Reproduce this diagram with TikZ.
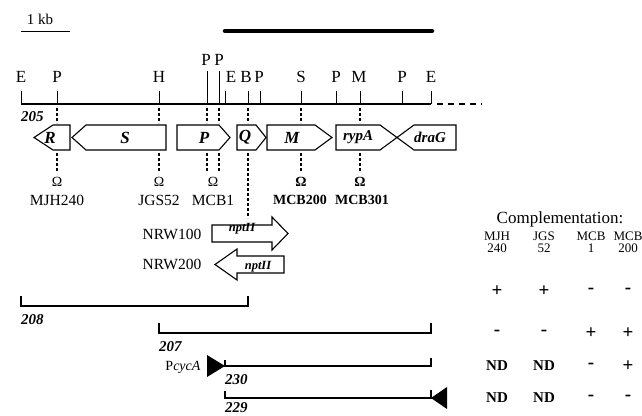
\documentclass[tikz,border=0pt]{standalone}
\usepackage{fontspec}
\setmainfont{Liberation Serif}
\newcommand\fsz[1]{\fontsize{#1}{#1}\selectfont}
\begin{document}
\begin{tikzpicture}[x=1pt,y=-1pt,
  sitelbl/.style={font=\fsz{17}, inner sep=0pt},
  sitetick/.style={line width=0.9pt},
  dotl/.style={line width=1.1pt, dash pattern=on 2.5pt off 2.5pt},
  gene/.style={draw, line width=1.1pt, fill=white, line join=miter},
  genelbl/.style={font=\fsz{17}\bfseries\itshape, inner sep=0pt},
  mutlbl/.style={font=\fsz{15.5}, inner sep=0pt},
  omg/.style={font=\fsz{14}, inner sep=0pt},
  fraglbl/.style={font=\fsz{15}\bfseries\itshape, anchor=west, inner sep=0pt},
  frag/.style={line width=1.3pt},
  ndcell/.style={font=\fsz{15}\bfseries, inner sep=0pt},
  pmcell/.style={font=\fsz{19}\bfseries, inner sep=0pt},
  headlbl/.style={font=\fsz{13}, inner sep=0pt},
]
\useasboundingbox (0,0) rectangle (642,415);
\clip (0,0) rectangle (642,415);

% scale bar and thick bar
\node[font=\fsz{15}, inner sep=0pt] (kb) at (40,19) {1 kb};
\coordinate (sb1) at (21,31); \coordinate (sb2) at (70,31);
\draw[line width=0.8pt] (sb1) -- (sb2);
\coordinate (tb1) at (225,31); \coordinate (tb2) at (432,31);
\draw[line width=4.5pt, line cap=round] (tb1) -- (tb2);

% main map line
\coordinate (mL) at (21,104); \coordinate (mR) at (431,104);
\draw[line width=1.6pt] (mL) -- (mR);
\coordinate (dL) at (437,104); \coordinate (dR) at (482,104);
\draw[line width=1.1pt, dash pattern=on 6pt off 5pt] (dL) -- (dR);

% sites
\foreach \x/\nm in {21/sE1,57/sP1,159/sH,225/sE2,248/sB,260/sP4,301/sS,336/sP5,360/sM,402/sP6,431/sE3}{
  \coordinate (\nm) at (\x,104);
  \draw[sitetick] (\x,91) -- (\nm);
}
\foreach \x/\nm in {207/sP2,219/sP3}{
  \coordinate (\nm) at (\x,104);
  \draw[sitetick] (\x,71) -- (\nm);
}
\node[sitelbl] (lE1) at (21,77) {E};
\node[sitelbl] (lP1) at (57,77) {P};
\node[sitelbl] (lH) at (159,77) {H};
\node[sitelbl] (lP2) at (206,60) {P};
\node[sitelbl] (lP3) at (219,60) {P};
\node[sitelbl] (lE2) at (231,77) {E};
\node[sitelbl] (lB) at (246,77) {B};
\node[sitelbl] (lP4) at (259,77) {P};
\node[sitelbl] (lS) at (301,77) {S};
\node[sitelbl] (lP5) at (336,77) {P};
\node[sitelbl] (lM) at (359,77) {M};
\node[sitelbl] (lP6) at (402,77) {P};
\node[sitelbl] (lE3) at (431,77) {E};
\node[fraglbl] (f205) at (21,117) {205};

% dashed lines from map to genes
\foreach \x in {57,159,207,219,248,301,360}{
  \draw[dotl] (\x,108) -- (\x,123);
}

% genes
\draw[gene] (70,125) -- (53,125) -- (34,137.5) -- (53,150) -- (70,150) -- cycle;
\node[genelbl] (gR) at (50,137.5) {R};
\draw[gene] (166,125) -- (86,125) -- (72,137.5) -- (86,150) -- (166,150) -- cycle;
\node[genelbl] (gS) at (125,137.5) {S};
\draw[gene] (177,125) -- (219,125) -- (230,137.5) -- (219,150) -- (177,150) -- cycle;
\node[genelbl] (gP) at (204,137.5) {P};
\draw[gene] (237,125) -- (256,125) -- (266,137.5) -- (256,150) -- (237,150) -- cycle;
\node[genelbl] (gQ) at (245,137.5) {Q};
\draw[gene] (267,125) -- (315,125) -- (332,137.5) -- (315,150) -- (267,150) -- cycle;
\node[genelbl] (gM) at (292,137.5) {M};
\draw[gene] (336,125) -- (380,125) -- (397,137.5) -- (380,150) -- (336,150) -- cycle;
\node[genelbl, font=\fsz{15}\bfseries\itshape] (grypA) at (358,137.5) {rypA};
\draw[gene] (456,125) -- (414,125) -- (397,137.5) -- (414,150) -- (456,150) -- cycle;
\node[genelbl, font=\fsz{15}\bfseries\itshape] (gdraG) at (430,137.5) {draG};

% insertion mutants
\foreach \x in {57,159,207,219,301,360}{
  \draw[dotl] (\x,153) -- (\x,171);
}
\node[omg] (o1) at (57,182) {Ω};
\node[omg] (o2) at (159,182) {Ω};
\node[omg] (o3) at (213,182) {Ω};
\node[omg, font=\fsz{14}\bfseries] (o4) at (301,182) {Ω};
\node[omg, font=\fsz{14}\bfseries] (o5) at (360,182) {Ω};
\node[mutlbl] (m1) at (57,200) {MJH240};
\node[mutlbl] (m2) at (159,200) {JGS52};
\node[mutlbl] (m3) at (213,200) {MCB1};
\node[mutlbl, font=\fsz{14}\bfseries] (m4) at (300,200) {MCB200};
\node[mutlbl, font=\fsz{14}\bfseries] (m5) at (362,200) {MCB301};

% nptII insertions
\draw[dotl] (248,153) -- (248,218);
\node[mutlbl] (n1) at (172,234) {NRW100};
\draw[gene] (212,225) -- (272,225) -- (272,217) -- (288,233.5) -- (272,250) -- (272,242) -- (212,242) -- cycle;
\node[font=\fsz{12.5}\bfseries\itshape, inner sep=0pt] (np1) at (242,229) {nptII};
\node[mutlbl] (n2) at (172,264) {NRW200};
\draw[gene] (284,256) -- (237,256) -- (237,249) -- (215,264.5) -- (237,280) -- (237,273) -- (284,273) -- cycle;
\node[font=\fsz{12.5}\bfseries\itshape, inner sep=0pt] (np2) at (258,267) {nptII};

% subclone fragments
\coordinate (a1) at (21,296); \coordinate (a2) at (21,306);
\coordinate (a3) at (248,306); \coordinate (a4) at (248,296);
\draw[frag] (a1) -- (a2) -- (a3) -- (a4);
\node[fraglbl] (f208) at (21,320) {208};

\coordinate (b1) at (159,323); \coordinate (b2) at (159,333);
\coordinate (b3) at (431,333); \coordinate (b4) at (431,323);
\draw[frag] (b1) -- (b2) -- (b3) -- (b4);
\node[fraglbl] (f207) at (159,347) {207};

\coordinate (c1) at (225,360); \coordinate (c2) at (225,366);
\coordinate (c3) at (431,366); \coordinate (c4) at (431,358);
\draw[frag] (c1) -- (c2) -- (c3) -- (c4);
\fill (207,355) -- (c2) -- (207,377) -- cycle;
\node[font=\fsz{14}, inner sep=0pt] (pcyc) at (183,367) {P\textit{cycA}};
\node[fraglbl] (f230) at (225,380) {230};

\coordinate (d1) at (225,391); \coordinate (d2) at (225,398);
\coordinate (d3) at (431,398); \coordinate (d4) at (431,390);
\draw[frag] (d1) -- (d2) -- (d3) -- (d4);
\fill (447,387) -- (d3) -- (447,409) -- cycle;
\node[fraglbl] (f229) at (225,407.5) {229};

% complementation table
\node[font=\fsz{17}, inner sep=0pt] (comp) at (560,219) {Complementation:};
\foreach \x/\a/\b/\nm in {497/MJH/240/h1,544/JGS/52/h2,591/MCB/1/h3,628/MCB/200/h4}{
  \node[headlbl] (\nm a) at (\x,236) {\a};
  \node[headlbl] (\nm b) at (\x,248) {\b};
}
\node[pmcell] (r1a) at (497,291) {+};
\node[pmcell] (r1b) at (544,291) {+};
\node[pmcell] (r1c) at (591,291) {-};
\node[pmcell] (r1d) at (628,291) {-};
\node[pmcell] (r2a) at (497,333) {-};
\node[pmcell] (r2b) at (544,333) {-};
\node[pmcell] (r2c) at (591,333) {+};
\node[pmcell] (r2d) at (628,333) {+};
\node[ndcell] (r3a) at (497,366) {ND};
\node[ndcell] (r3b) at (544,366) {ND};
\node[pmcell] (r3c) at (591,366) {-};
\node[pmcell] (r3d) at (628,366) {+};
\node[ndcell] (r4a) at (497,398) {ND};
\node[ndcell] (r4b) at (544,398) {ND};
\node[pmcell] (r4c) at (591,398) {-};
\node[pmcell] (r4d) at (628,398) {-};
\end{tikzpicture}
\end{document}
